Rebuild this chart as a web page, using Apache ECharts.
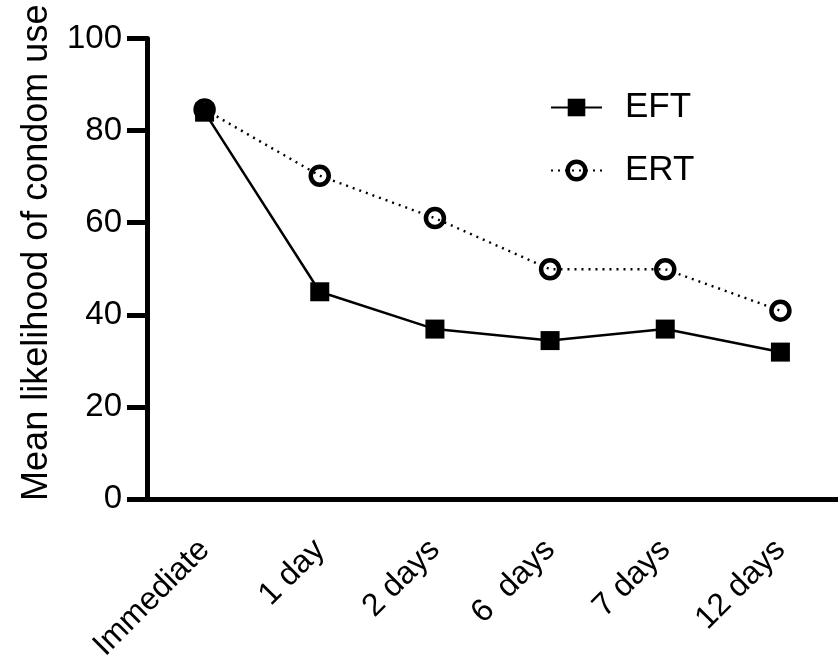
<!DOCTYPE html>
<html>
<head>
<meta charset="utf-8">
<script src="https://cdn.jsdelivr.net/npm/echarts@6/dist/echarts.min.js"></script>
<style>
html,body{margin:0;padding:0;background:#fff;}
#chart{width:838px;height:668px;}
</style>
</head>
<body>
<div id="chart"></div>
<script>
const categories = ['Immediate', '1 day', '2 days', '6  days', '7 days', '12 days'];
const eftValues = [84.0, 45.0, 36.9, 34.4, 36.9, 31.9];
const ertValues = [84.6, 70.2, 61.0, 49.9, 49.9, 40.9];
const yTicks = [0, 20, 40, 60, 80, 100];

const FONT = "'Liberation Sans', Arial, sans-serif";
const chart = echarts.init(document.getElementById('chart'));
chart.setOption({
  animation: false,
  backgroundColor: '#fff',
  grid: {left: 147, right: 0, top: 38.5, bottom: 169, containLabel: false},
  legend: {
    orient: 'vertical',
    left: 545,
    top: 82,
    itemWidth: 51,
    itemHeight: 22,
    itemGap: 22,
    data: [
      {name: 'EFT', itemStyle: {color: '#000'}},
      {name: 'ERT', itemStyle: {color: 'rgba(0,0,0,0)', borderColor: '#000', borderWidth: 4.5}}
    ],
    textStyle: {fontFamily: FONT, fontSize: 35, color: '#000', lineHeight: 41, padding: [0, 0, 0, 18]},
    selectedMode: false
  },
  xAxis: {
    type: 'category',
    data: categories,
    boundaryGap: true,
    axisLine: {lineStyle: {color: '#000', width: 5}},
    axisTick: {alignWithLabel: true, length: 20, lineStyle: {color: '#000', width: 5}},
    axisLabel: {rotate: 45, margin: 46, fontFamily: FONT, fontSize: 32, color: '#000', interval: 0,
      padding: [0, 0, 0, 0]}
  },
  yAxis: {
    type: 'value',
    min: 0, max: 100, interval: 20,
    name: 'Mean likelihood of condom use',
    nameLocation: 'middle',
    nameGap: 92,
    nameTextStyle: {fontFamily: FONT, fontSize: 36, color: '#000', padding: [0, 0, 0, 32]},
    axisLine: {show: true, lineStyle: {color: '#000', width: 5}},
    axisTick: {show: true, length: 20, lineStyle: {color: '#000', width: 5}},
    axisLabel: {margin: 25, fontFamily: FONT, fontSize: 33, color: '#000',
      formatter: v => yTicks.includes(v) ? String(v) : ''},
    splitLine: {show: false}
  },
  series: [
    {
      name: 'EFT', type: 'line', data: eftValues,
      symbol: 'rect', symbolSize: 19,
      itemStyle: {color: '#000'},
      lineStyle: {color: '#000', width: 2.5},
      emphasis: {disabled: true}, z: 2
    },
    {
      name: 'ERT', type: 'line', data: ertValues,
      symbol: 'circle', symbolSize: 18,
      itemStyle: {color: 'rgba(0,0,0,0)', borderColor: '#000', borderWidth: 4.5},
      lineStyle: {color: '#000', width: 2.4, type: [2, 5]},
      emphasis: {disabled: true}, z: 3
    }
  ]
});
</script>
</body>
</html>
